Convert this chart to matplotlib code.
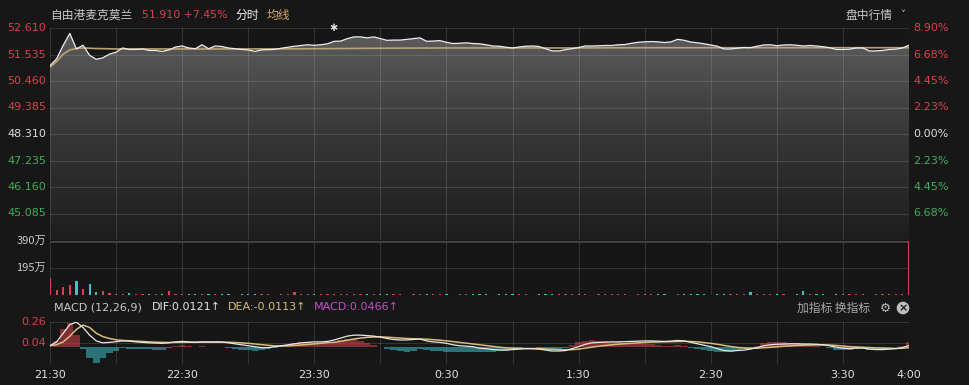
import numpy as np
import matplotlib
matplotlib.use('Agg')
import matplotlib.pyplot as plt
from matplotlib.colors import LinearSegmentedColormap

plt.rcParams['font.family'] = ['Noto Sans CJK SC', 'DejaVu Sans']

# ---- data (3 minute steps from 21:30 to 4:00) ----
minutes = np.arange(0, 391, 3)
pre_close = 48.31

price = [51.08, 51.36, 51.91, 52.39, 51.76, 51.91, 51.50, 51.34, 51.40, 51.55,
         51.63, 51.80, 51.74, 51.74, 51.76, 51.70, 51.70, 51.66, 51.72, 51.84,
         51.88, 51.80, 51.77, 51.93, 51.77, 51.88, 51.86, 51.80, 51.77, 51.74,
         51.72, 51.66, 51.72, 51.73, 51.74, 51.79, 51.83, 51.87, 51.90, 51.93,
         51.91, 51.93, 51.97, 52.07, 52.08, 52.18, 52.25, 52.25, 52.21, 52.25,
         52.18, 52.11, 52.12, 52.12, 52.15, 52.18, 52.21, 52.07, 52.08, 52.10,
         52.03, 51.98, 51.99, 52.01, 51.98, 51.97, 51.93, 51.88, 51.87, 51.83,
         51.80, 51.84, 51.87, 51.88, 51.86, 51.77, 51.68, 51.68, 51.73, 51.77,
         51.82, 51.88, 51.88, 51.89, 51.90, 51.90, 51.93, 51.94, 51.99, 52.03,
         52.05, 52.06, 52.05, 52.02, 52.05, 52.15, 52.11, 52.04, 52.01, 51.97,
         51.92, 51.87, 51.76, 51.76, 51.79, 51.82, 51.81, 51.87, 51.92, 51.93,
         51.89, 51.92, 51.93, 51.91, 51.88, 51.90, 51.88, 51.85, 51.81, 51.74,
         51.74, 51.75, 51.80, 51.80, 51.68, 51.68, 51.70, 51.74, 51.75, 51.80,
         51.91]

avg_minutes = [0, 3, 6, 9, 12, 15, 20, 30, 60, 90, 120, 150, 180, 210, 240, 270, 300, 330, 360, 390]
avg_price = [51.02, 51.25, 51.55, 51.72, 51.78, 51.80, 51.78, 51.76, 51.76, 51.76,
             51.77, 51.79, 51.80, 51.80, 51.80, 51.81, 51.81, 51.81, 51.81, 51.81]

volume = [125, 35, 60, 75, 100, 45, 80, 20, 30, 18, 10, 8, 12, 6, 8, 5, 6, 5, 30, 9,
          6, 5, 4, 8, 5, 6, 4, 5, 3, 4, 5, 6, 4, 5, 3, 4, 5, 20, 5, 4,
          5, 6, 8, 8, 6, 5, 7, 6, 5, 4, 5, 6, 4, 5, 3, 4, 5, 4, 6, 5,
          4, 3, 5, 4, 6, 5, 4, 3, 5, 4, 6, 5, 4, 3, 5, 4, 6, 5, 4, 6,
          5, 4, 3, 5, 4, 6, 5, 4, 3, 5, 4, 6, 5, 4, 3, 5, 4, 6, 5, 4,
          3, 5, 4, 6, 5, 4, 22, 5, 4, 6, 5, 4, 3, 5, 28, 6, 5, 4, 3, 5,
          4, 6, 5, 4, 3, 5, 4, 6, 5, 8, 390]

dif = [0.01, 0.05, 0.14, 0.23, 0.255, 0.20, 0.12, 0.06, 0.04, 0.045,
       0.052, 0.06, 0.058, 0.05, 0.045, 0.04, 0.038, 0.035, 0.04, 0.05,
       0.055, 0.05, 0.045, 0.05, 0.048, 0.05, 0.048, 0.04, 0.03, 0.02,
       0.01, 0.0, -0.01, -0.01, 0.0, 0.01, 0.02, 0.03, 0.04, 0.045,
       0.05, 0.05, 0.055, 0.07, 0.09, 0.11, 0.12, 0.12, 0.115, 0.11,
       0.10, 0.085, 0.075, 0.07, 0.07, 0.075, 0.08, 0.06, 0.05, 0.045,
       0.035, 0.02, 0.01, 0.005, 0.0, -0.015, -0.02, -0.03, -0.035, -0.035,
       -0.03, -0.025, -0.02, -0.02, -0.025, -0.035, -0.045, -0.045, -0.04, -0.02,
       0.0, 0.025, 0.04, 0.045, 0.048, 0.05, 0.05, 0.052, 0.055, 0.058,
       0.06, 0.06, 0.058, 0.055, 0.058, 0.065, 0.06, 0.045, 0.03, 0.015,
       0.0, -0.02, -0.04, -0.045, -0.04, -0.035, -0.025, -0.01, 0.01, 0.02,
       0.025, 0.028, 0.03, 0.03, 0.028, 0.028, 0.025, 0.02, 0.01, -0.005,
       -0.015, -0.02, -0.015, -0.015, -0.025, -0.03, -0.03, -0.025, -0.02, -0.01,
       0.012]

dea = [0.01, 0.02, 0.05, 0.11, 0.18, 0.225, 0.20, 0.14, 0.105, 0.085,
       0.072, 0.065, 0.062, 0.058, 0.054, 0.05, 0.047, 0.045, 0.044, 0.045,
       0.047, 0.048, 0.048, 0.048, 0.048, 0.049, 0.049, 0.047, 0.044, 0.04,
       0.035, 0.028, 0.02, 0.013, 0.008, 0.007, 0.009, 0.013, 0.018, 0.024,
       0.03, 0.035, 0.04, 0.046, 0.056, 0.068, 0.08, 0.09, 0.097, 0.101,
       0.102, 0.099, 0.094, 0.089, 0.085, 0.083, 0.082, 0.078, 0.073, 0.068,
       0.061, 0.053, 0.045, 0.037, 0.029, 0.02, 0.012, 0.003, -0.005, -0.012,
       -0.016, -0.018, -0.019, -0.019, -0.02, -0.023, -0.027, -0.031, -0.033, -0.031,
       -0.025, -0.015, -0.005, 0.005, 0.013, 0.02, 0.026, 0.031, 0.036, 0.04,
       0.044, 0.047, 0.049, 0.05, 0.052, 0.054, 0.056, 0.054, 0.05, 0.043,
       0.035, 0.025, 0.013, 0.002, -0.007, -0.013, -0.016, -0.016, -0.012, -0.007,
       -0.001, 0.004, 0.009, 0.013, 0.016, 0.018, 0.019, 0.019, 0.017, 0.013,
       0.007, 0.001, -0.003, -0.006, -0.009, -0.013, -0.016, -0.018, -0.018, -0.016,
       -0.011]

macd_bar = [0.0, 0.06, 0.18, 0.25, 0.12, -0.02, -0.12, -0.17, -0.12, -0.07,
            -0.04, -0.015, -0.02, -0.025, -0.025, -0.028, -0.03, -0.03, -0.015, 0.01,
            0.016, 0.004, -0.006, 0.004, 0.0, 0.002, -0.002, -0.014, -0.02, -0.03,
            -0.035, -0.04, -0.035, -0.025, -0.01, 0.006, 0.022, 0.034, 0.044, 0.042,
            0.04, 0.03, 0.03, 0.048, 0.068, 0.084, 0.08, 0.06, 0.036, 0.018,
            -0.004, -0.028, -0.038, -0.045, -0.05, -0.04, -0.02, -0.036, -0.046, -0.046,
            -0.052, -0.058, -0.06, -0.056, -0.05, -0.056, -0.05, -0.052, -0.048, -0.04,
            -0.028, -0.014, -0.002, -0.002, -0.01, -0.024, -0.036, -0.028, -0.014, 0.022,
            0.045, 0.06, 0.065, 0.06, 0.055, 0.05, 0.045, 0.042, 0.038, 0.036,
            0.032, 0.026, 0.018, 0.01, 0.012, 0.022, 0.008, -0.012, -0.025, -0.035,
            -0.045, -0.055, -0.06, -0.055, -0.04, -0.028, -0.012, 0.012, 0.04, 0.05,
            0.05, 0.046, 0.04, 0.034, 0.024, 0.02, 0.012, 0.002, -0.014, -0.03,
            -0.038, -0.036, -0.024, -0.018, -0.03, -0.032, -0.028, -0.014, -0.004, 0.012,
            0.046]

tick_minutes = [0, 60, 120, 180, 240, 300, 360, 390]
tick_labels = ['21:30', '22:30', '23:30', '0:30', '1:30', '2:30', '3:30', '4:00']
left_ticks = [52.610, 51.535, 50.460, 49.385, 48.310, 47.235, 46.160, 45.085]
right_ticks = ['8.90%', '6.68%', '4.45%', '2.23%', '0.00%', '2.23%', '4.45%', '6.68%']

RED = '#d9414e'
GREEN = '#3fae5a'
CYAN = '#3cc3c8'
TXT = '#c9c9c9'

W, H = 969, 385
fig = plt.figure(figsize=(W / 100, H / 100), dpi=100, facecolor='#171717')


def rect(x0, y0, x1, y1):
    return [x0 / W, 1 - y1 / H, (x1 - x0) / W, (y1 - y0) / H]


def ftext(x, y, s, **kw):
    fig.text(x / W, 1 - y / H, s, va='center', **kw)


ax = fig.add_axes(rect(50, 28, 909, 240))
axv = fig.add_axes(rect(50, 241, 909, 295))
axm = fig.add_axes(rect(50, 321.7, 909, 364))

for a in (ax, axv, axm):
    a.set_facecolor('#161616')
    a.set_xlim(0, 390)
    for s in a.spines.values():
        s.set_visible(False)
    a.tick_params(left=False, bottom=False, labelleft=False, labelbottom=False)
    for m in range(0, 391, 30):
        a.axvline(m, color='white', alpha=0.12, lw=0.8, zorder=1.5)

# ---- price panel ----
ymin, ymax = 44.01, 52.61
ax.set_ylim(ymin, ymax)
for v in left_ticks:
    ax.axhline(v, color='white', alpha=0.12, lw=0.8, zorder=1.5)

poly = ax.fill_between(minutes, price, ymin, color='none', lw=0)
grad = np.linspace(0, 1, 256).reshape(-1, 1)
cm = LinearSegmentedColormap.from_list('g', ['#1d1d1d', '#363636', '#5c5c5c'])
im = ax.imshow(grad, cmap=cm, aspect='auto', origin='lower',
               extent=[0, 390, ymin, 52.4], zorder=1)
im.set_clip_path(poly.get_paths()[0], transform=ax.transData)
ax.set_xlim(0, 390)
ax.set_ylim(ymin, ymax)
ax.plot(avg_minutes, avg_price, color='#b9a273', lw=1.2, zorder=2)
ax.plot(minutes, price, color='#ececec', lw=0.9, zorder=3)

for i, v in enumerate(left_ticks):
    c = RED if v > pre_close else (GREEN if v < pre_close else '#dddddd')
    y = 28 + i * (212 / 8)
    ftext(46, y, '%.3f' % v, color=c, fontsize=8, ha='right', family='DejaVu Sans')
    ftext(913, y, right_ticks[i], color=c, fontsize=8, ha='left', family='DejaVu Sans')

ftext(333, 28, '✱', color='#e0e0e0', fontsize=7, ha='center', family='DejaVu Sans')

# ---- volume panel ----
axv.set_ylim(0, 390)
axv.axhline(390, color='#474747', lw=1.8)
axv.axhline(195, color='white', alpha=0.12, lw=0.8)
vol_colors = [RED] + [RED if price[i] >= price[i - 1] else CYAN for i in range(1, len(price))]
axv.bar(minutes, volume, width=1.0, color=vol_colors, zorder=2)
ftext(46, 241, '390万', color=TXT, fontsize=8, ha='right')
ftext(46, 268, '195万', color=TXT, fontsize=8, ha='right')

# ---- MACD panel ----
axm.set_ylim(-0.18, 0.26)
for v in (0.26, 0.04, -0.18):
    axm.axhline(v, color='white', alpha=0.12, lw=0.8, zorder=1.5)
bar_colors = [RED if v >= 0 else CYAN for v in macd_bar]
axm.bar(minutes, macd_bar, width=3.0, color=bar_colors, alpha=0.55, lw=0, zorder=2)
axm.plot(minutes, dea, color='#d6bd78', lw=1.1, zorder=3)
axm.plot(minutes, dif, color='#e8e8e8', lw=0.9, zorder=4)
ftext(46, 321.7, '0.26', color=RED, fontsize=8, ha='right', family='DejaVu Sans')
ftext(46, 343.3, '0.04', color=RED, fontsize=8, ha='right', family='DejaVu Sans')

for m, lab in zip(tick_minutes, tick_labels):
    x = 50 + m * 859 / 390
    ftext(x, 375, lab, color='#e0e0e0', fontsize=8, ha='center', family='DejaVu Sans')

# ---- header texts ----
ftext(50, 15, '自由港麦克莫兰', color=TXT, fontsize=8.5, ha='left')
ftext(142, 15, '51.910 +7.45%', color=RED, fontsize=7.9, ha='left', family='DejaVu Sans')
ftext(235, 15, '分时', color='#f0f0f0', fontsize=8.5, ha='left')
ftext(267, 15, '均线', color='#d6a95e', fontsize=8.5, ha='left')
ftext(845, 15, '盘中行情', color=TXT, fontsize=8.5, ha='left')
ftext(903, 15, '˅', color=TXT, fontsize=7, ha='center', family='DejaVu Sans')

ftext(54, 307, 'MACD (12,26,9)', color=TXT, fontsize=8, ha='left', family='DejaVu Sans')
ftext(152, 307, 'DIF:0.0121↑', color='#e6e6e6', fontsize=8, ha='left', family='DejaVu Sans')
ftext(228, 307, 'DEA:-0.0113↑', color='#d6bd78', fontsize=8, ha='left', family='DejaVu Sans')
ftext(314, 307, 'MACD:0.0466↑', color='#c24fc9', fontsize=8, ha='left', family='DejaVu Sans')
ftext(797, 308, '加指标 换指标', color='#a8a8a8', fontsize=8.5, ha='left')
ftext(885, 308, '⚙', color='#bdbdbd', fontsize=9, ha='center', family='DejaVu Sans')
ftext(903, 308, '×', color='#171717', fontsize=8, ha='center', family='DejaVu Sans',
      fontweight='bold', bbox=dict(boxstyle='circle,pad=0.12', fc='#bdbdbd', ec='none'))

fig.savefig('out.png', dpi=100, facecolor=fig.get_facecolor())
